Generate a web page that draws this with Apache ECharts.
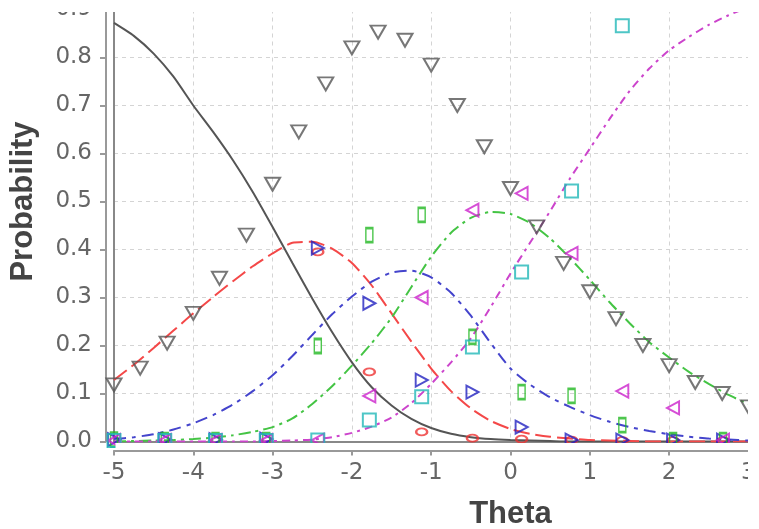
<!DOCTYPE html>
<html><head><meta charset="utf-8">
<script src="https://cdn.jsdelivr.net/npm/echarts@6/dist/echarts.min.js"></script>
<style>html,body{margin:0;padding:0;background:#fff}#c{width:759px;height:529px}</style>
</head><body><div id="c"></div>
<script>
// ---- model curves (read at theta steps of 0.25) ----
const curveTheta = [-5,-4.75,-4.5,-4.25,-4,-3.75,-3.5,-3.25,-3,-2.75,-2.5,-2.25,-2,-1.75,-1.5,-1.25,-1,-0.75,-0.5,-0.25,0,0.25,0.5,0.75,1,1.25,1.5,1.75,2,2.25,2.5,2.75,3];
const curveCat1 = [0.872,0.845,0.808,0.760,0.700,0.645,0.586,0.520,0.447,0.372,0.298,0.228,0.165,0.113,0.075,0.047,0.028,0.016,0.009,0.005,0.003,0.002,0.001,0,0,0,0,0,0,0,0,0,0];
const curveCat2 = [0.128,0.160,0.195,0.231,0.267,0.301,0.334,0.365,0.392,0.414,0.416,0.402,0.372,0.325,0.267,0.208,0.152,0.105,0.069,0.043,0.026,0.016,0.010,0.006,0.003,0.002,0.001,0,0,0,0,0,0];
const curveCat3 = [0.005,0.009,0.015,0.025,0.038,0.055,0.077,0.105,0.138,0.178,0.222,0.265,0.302,0.333,0.352,0.356,0.342,0.310,0.262,0.205,0.152,0.118,0.092,0.072,0.055,0.041,0.030,0.022,0.015,0.010,0.006,0.004,0.002];
const curveCat4 = [0,0.001,0.002,0.003,0.005,0.008,0.013,0.020,0.030,0.048,0.078,0.115,0.158,0.205,0.258,0.322,0.385,0.435,0.466,0.478,0.474,0.455,0.423,0.382,0.337,0.290,0.247,0.207,0.175,0.145,0.120,0.097,0.078];
const curveCat5 = [0,0,0,0,0,0,0,0,0.001,0.002,0.004,0.009,0.018,0.031,0.050,0.080,0.120,0.165,0.215,0.280,0.350,0.415,0.480,0.548,0.610,0.672,0.730,0.777,0.815,0.843,0.868,0.888,0.905];

// ---- grey triangle observations ----
const triTheta = [-5,-4.67,-4.33,-4,-3.67,-3.33,-3,-2.67,-2.33,-2,-1.67,-1.33,-1,-0.67,-0.33,0,0.33,0.67,1,1.33,1.67,2,2.33,2.67,3];
const triValues = [0.118,0.153,0.205,0.267,0.340,0.430,0.536,0.645,0.745,0.820,0.853,0.836,0.784,0.700,0.614,0.527,0.447,0.371,0.312,0.256,0.200,0.158,0.123,0.100,0.072];

// ---- binned observed proportions ----
const binTheta = [-5,-4.36,-3.72,-3.08,-2.43,-1.78,-1.12,-0.48,0.14,0.77,1.41,2.05,2.68];
const obsCat1 = [0.990,0.990,0.985,0.985,0.395,0.145,0.020,0.007,0.005,0.003,0.002,0.002,0.002];
const obsCat2 = [0.004,0.004,0.004,0.005,0.403,0.288,0.128,0.103,0.030,0.003,0.003,0.003,0.003];
const obsCat3 = [0.004,0.003,0.003,0.003,0.199,0.430,0.472,0.218,0.103,0.095,0.034,0.003,0.003];
const obsCat4 = [0.002,0.002,0.002,0.002,0.003,0.095,0.300,0.482,0.517,0.392,0.105,0.070,0.003];
const obsCat5 = [0.002,0.002,0.002,0.002,0.003,0.045,0.093,0.197,0.353,0.522,0.866,0.930,0.990];

const xTicks = {min:-5, max:5, interval:1};
const yTicks = {min:0, max:1, interval:0.1};

const pairs = (xs, ys) => xs.map((x,i)=>[x, ys[i]]);
const chart = echarts.init(document.getElementById('c'), null, {renderer:'canvas'});

function lineSeries(ys, color, type){
  return {type:'line', data:pairs(curveTheta, ys), showSymbol:false, smooth:0.2,
    lineStyle:{color:color, width:2, type:type}, z:2, silent:true};
}
function scatterSeries(xs, ys, symbol, size, rotate, color, bw){
  return {type:'scatter', data:pairs(xs, ys), symbol:symbol, symbolSize:size, symbolRotate:rotate,
    itemStyle:{color:'rgba(0,0,0,0)', borderColor:color, borderWidth:bw}, z:3, silent:true};
}

const labelFont = {fontFamily:'DejaVu Sans', fontSize:23, color:'#666'};
const nameFont = {fontFamily:'Liberation Sans', fontWeight:'bold', fontSize:31, color:'#444'};
const split = {show:true, lineStyle:{color:'#d4d4d4', type:[4,4], width:1}};

chart.setOption({
  animation:false,
  backgroundColor:'#fff',
  grid:{left:114, right:-148, top:-38.5, bottom:87.5, outerBoundsMode:'none', containLabel:false},
  xAxis:[
    {type:'value', min:xTicks.min, max:xTicks.max, interval:xTicks.interval, position:'bottom', offset:9,
     axisLine:{show:true, onZero:false, lineStyle:{color:'#999', width:2}},
     axisTick:{show:true, length:5, lineStyle:{color:'#999', width:2}},
     axisLabel:Object.assign({margin:11}, labelFont),
     splitLine:split,
     name:'Theta', nameLocation:'middle', nameGap:48, nameTextStyle:nameFont},
    {type:'value', min:xTicks.min, max:xTicks.max, interval:xTicks.interval, position:'bottom', offset:0,
     axisLine:{show:true, onZero:false, lineStyle:{color:'#888', width:2}},
     axisTick:{show:false}, axisLabel:{show:false}, splitLine:{show:false}}
  ],
  yAxis:[
    {type:'value', min:yTicks.min, max:yTicks.max, interval:yTicks.interval, position:'left', offset:8,
     axisLine:{show:true, onZero:false, lineStyle:{color:'#999', width:2}},
     axisTick:{show:true, length:6, lineStyle:{color:'#999', width:2}},
     axisLabel:Object.assign({margin:14, formatter:v=>v.toFixed(1)}, labelFont),
     splitLine:split,
     name:'Probability', nameLocation:'middle', nameGap:67, nameRotate:90, nameTextStyle:nameFont},
    {type:'value', min:yTicks.min, max:yTicks.max, interval:yTicks.interval, position:'left', offset:0,
     axisLine:{show:true, onZero:false, lineStyle:{color:'#888', width:2}},
     axisTick:{show:false}, axisLabel:{show:false}, splitLine:{show:false}}
  ],
  series:[
    lineSeries(curveCat1, '#555555', 'solid'),
    lineSeries(curveCat2, '#f44848', [16,6]),
    lineSeries(curveCat3, '#4444cc', [12,6,4,6]),
    lineSeries(curveCat4, '#44c444', [12,5,3,5]),
    lineSeries(curveCat5, '#cc44cc', [8,5,3,5]),
    scatterSeries(triTheta, triValues, 'triangle', [15,13], 180, '#555555', 2),
    scatterSeries(binTheta, obsCat1, 'circle', [11,7], 0, '#ee3333', 2),
    scatterSeries(binTheta, obsCat2, 'triangle', [13,12], -90, '#2222c0', 2),
    scatterSeries(binTheta, obsCat3, 'rect', [7,14], 0, '#22b822', 2),
    scatterSeries(binTheta, obsCat4, 'triangle', [13,12], 90, '#cc22cc', 2),
    scatterSeries(binTheta, obsCat5, 'rect', [13,13], 0, '#22b8b8', 2)
  ],
  graphic:[
    {type:'rect', shape:{x:0, y:0, width:759, height:12}, style:{fill:'#fff'}, z:100, silent:true},
    {type:'rect', shape:{x:748, y:0, width:11, height:529}, style:{fill:'#fff'}, z:100, silent:true},
    {type:'rect', shape:{x:115.5, y:443, width:633, height:6.5}, style:{fill:'#fff'}, z:100, silent:true}
  ]
});
</script></body></html>
